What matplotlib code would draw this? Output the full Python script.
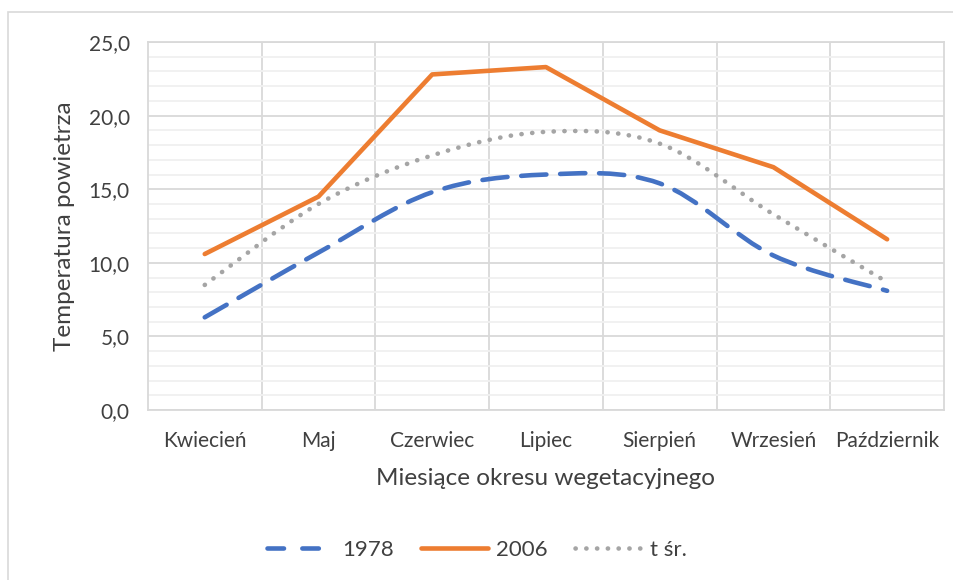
import numpy as np
import matplotlib.pyplot as plt
from matplotlib.path import Path
from matplotlib.patches import PathPatch, Rectangle
from matplotlib.lines import Line2D

# dane
months = ['Kwiecień', 'Maj', 'Czerwiec', 'Lipiec', 'Sierpień', 'Wrzesień', 'Październik']
t1978 = [6.3, 10.7, 14.8, 16.0, 15.4, 10.5, 8.1]
t2006 = [10.6, 14.5, 22.8, 23.3, 19.0, 16.5, 11.6]
tsr = [8.5, 14.0, 17.3, 18.9, 18.1, 13.3, 8.7]

plt.rcParams['font.family'] = ['Lato', 'DejaVu Sans']
txt = '#404040'


def smooth_path(xs, ys):
    # krzywa wygladzona jak w Excelu (Bezier przez punkty)
    xs = np.asarray(xs, float)
    ys = np.asarray(ys, float)
    n = len(xs)
    verts = [(xs[0], ys[0])]
    codes = [Path.MOVETO]
    for i in range(n - 1):
        p0 = np.array([xs[max(i - 1, 0)], ys[max(i - 1, 0)]])
        p1 = np.array([xs[i], ys[i]])
        p2 = np.array([xs[i + 1], ys[i + 1]])
        p3 = np.array([xs[min(i + 2, n - 1)], ys[min(i + 2, n - 1)]])
        c1 = p1 + (p2 - p0) / 6
        c2 = p2 - (p3 - p1) / 6
        verts += [tuple(c1), tuple(c2), tuple(p2)]
        codes += [Path.CURVE4] * 3
    return Path(verts, codes)


fig = plt.figure(figsize=(9.54, 5.8), dpi=100)
ax = fig.add_axes([0.155, 0.293, 0.8345, 0.6345])

x = np.arange(len(months))

p = PathPatch(smooth_path(x, t1978), fill=False, edgecolor='#4472c4', lw=3.3,
              linestyle=(0, (5.5, 3)), capstyle='round', zorder=3)
ax.add_patch(p)
ax.plot(x, t2006, color='#ed7d31', lw=3.3, solid_capstyle='round', zorder=4)
p = PathPatch(smooth_path(x, tsr), fill=False, edgecolor='#a5a5a5', lw=3.3,
              linestyle=(0, (0.05, 2.3)), capstyle='round', zorder=3)
ax.add_patch(p)

ax.set_xlim(-0.5, 6.5)
ax.set_ylim(0, 25)
ax.set_yticks(np.arange(0, 26, 5))
ax.set_yticklabels([f'{v:.1f}'.replace('.', ',') for v in np.arange(0, 26, 5)])
ax.set_yticks(np.arange(0, 26, 1), minor=True)
ax.set_xticks(x)
ax.set_xticklabels(months)
ax.set_xticks(np.arange(0.5, 6.5, 1), minor=True)

ax.grid(True, which='major', axis='y', color='#d9d9d9', lw=1.3)
ax.grid(True, which='minor', axis='y', color='#f0f0f0', lw=1.3)
ax.grid(True, which='minor', axis='x', color='#d9d9d9', lw=1.3)
ax.set_axisbelow(True)
ax.tick_params(which='both', length=0, labelsize=15, colors=txt)
ax.tick_params(axis='x', pad=15)
ax.tick_params(axis='y', pad=13)
for s in ax.spines.values():
    s.set_color('#d9d9d9')
    s.set_linewidth(1.3)

ax.set_xlabel('Miesiące okresu wegetacyjnego', fontsize=17.5, color=txt, labelpad=12)
ax.set_ylabel('Temperatura powietrza', fontsize=17.5, color=txt, labelpad=10)

handles = [Line2D([], [], color='#4472c4', lw=3.3, linestyle=(0, (3.6, 4.0)),
                  dash_capstyle='round'),
           Line2D([], [], color='#ed7d31', lw=3.3, solid_capstyle='round'),
           Line2D([], [], color='#a5a5a5', lw=3.3, linestyle=(0, (0.05, 2.3)),
                  dash_capstyle='round')]
leg = fig.legend(handles, ['1978', '2006', 't śr.'], loc='center', ncol=3,
                 bbox_to_anchor=(0.5, 0.052), frameon=False, fontsize=16,
                 handlelength=3.0, columnspacing=1.2, handletextpad=0.4)
for t in leg.get_texts():
    t.set_color(txt)

fig.patches.append(Rectangle((0.008, -0.01), 1.1, 0.99, transform=fig.transFigure,
                             fill=False, edgecolor='#d9d9d9', lw=1.2))

fig.savefig('out.png', dpi=100)
